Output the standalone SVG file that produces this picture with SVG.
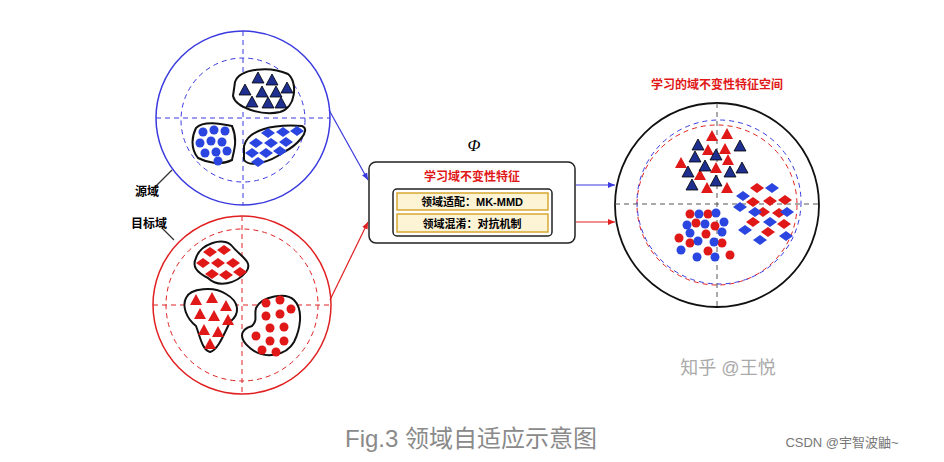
<svg xmlns="http://www.w3.org/2000/svg" xmlns:xlink="http://www.w3.org/1999/xlink" width="944" height="462" viewBox="0 0 944 462">
<style>
.cjk{font-family:"Liberation Sans","Noto Sans CJK SC",sans-serif}
.blob{fill:#fff;stroke:#111;stroke-width:2}
.ax{stroke-width:1;stroke-dasharray:5 4;fill:none}
</style>
<defs>
<path id="tri" d="M0,-6 L6,5 L-6,5Z"/>
<path id="dia" d="M0,-5 L7,0 L0,5 L-7,0Z"/>
<circle id="dot" r="4.5"/>
<marker id="ab" markerWidth="8" markerHeight="8" refX="7" refY="4" orient="auto" markerUnits="userSpaceOnUse"><path d="M0,1 L7,4 L0,7Z" fill="#3a3adf"/></marker>
<marker id="ar" markerWidth="8" markerHeight="8" refX="7" refY="4" orient="auto" markerUnits="userSpaceOnUse"><path d="M0,1 L7,4 L0,7Z" fill="#e02020"/></marker>
</defs>
<rect width="944" height="462" fill="#fff"/>
<g id="connectors" fill="none" stroke-width="1.2">
<path d="M329,110 L368,180" stroke="#3a3adf" marker-end="url(#ab)"/>
<path d="M330,300 L368,222" stroke="#e02020" marker-end="url(#ar)"/>
<path d="M576,185 L615,185" stroke="#3a3adf" marker-end="url(#ab)"/>
<path d="M576,222 L615,222" stroke="#e02020" marker-end="url(#ar)"/>
<path d="M172,170 L152,190" stroke="#333"/>
<path d="M162,228 L174,240" stroke="#333"/>
</g>
<g id="source">
<circle cx="243" cy="118" r="87" fill="none" stroke="#3a3adf" stroke-width="1.5"/>
<circle cx="243" cy="120" r="62" class="ax" stroke="#3a3adf"/>
<path d="M243,31 V205 M156,118 H330" class="ax" stroke="#3a3adf"/>
<path class="blob" d="M235,82 C240,68 270,66 288,74 C298,82 296,108 280,112 C262,116 236,108 233,96 Z"/>
<g fill="#1e2f8f" stroke="#000" stroke-width="0.8">
<use href="#tri" x="258" y="78"/><use href="#tri" x="272" y="80"/><use href="#tri" x="245" y="90"/><use href="#tri" x="262" y="92"/><use href="#tri" x="276" y="92"/><use href="#tri" x="287" y="88"/><use href="#tri" x="252" y="102"/><use href="#tri" x="268" y="103"/><use href="#tri" x="281" y="103"/>
</g>
<path class="blob" d="M196,128 C204,120 222,124 232,126 C238,140 234,150 232,160 C220,166 206,162 198,158 C190,148 192,136 196,128 Z"/>
<g fill="#2a45e0">
<use href="#dot" x="203" y="132"/><use href="#dot" x="214" y="130"/><use href="#dot" x="225" y="131"/><use href="#dot" x="200" y="143"/><use href="#dot" x="211" y="141"/><use href="#dot" x="222" y="142"/><use href="#dot" x="205" y="153"/><use href="#dot" x="216" y="152"/><use href="#dot" x="227" y="151"/><use href="#dot" x="218" y="161"/>
</g>
<path class="blob" d="M244,146 C248,130 272,124 302,126 C312,130 296,146 284,152 C270,162 250,168 244,160 Z"/>
<g fill="#2a45e0">
<use href="#dia" x="268" y="133"/><use href="#dia" x="283" y="132"/><use href="#dia" x="297" y="131"/><use href="#dia" x="256" y="143"/><use href="#dia" x="271" y="143"/><use href="#dia" x="286" y="142"/><use href="#dia" x="252" y="153"/><use href="#dia" x="266" y="153"/><use href="#dia" x="280" y="151"/><use href="#dia" x="258" y="162"/>
</g>
</g>
<g id="target">
<circle cx="242" cy="305" r="89" fill="none" stroke="#e02020" stroke-width="1.5"/>
<circle cx="242" cy="305" r="76" class="ax" stroke="#e02020"/>
<path d="M242,216 V394 M153,305 H331" class="ax" stroke="#e02020"/>
<path class="blob" d="M196,258 C200,244 224,236 232,246 C240,256 254,262 246,272 C236,284 218,288 208,278 C196,272 192,266 196,258 Z"/>
<g fill="#e01818">
<use href="#dia" x="210" y="252"/><use href="#dia" x="224" y="250"/><use href="#dia" x="203" y="263"/><use href="#dia" x="218" y="263"/><use href="#dia" x="233" y="263"/><use href="#dia" x="212" y="274"/><use href="#dia" x="226" y="275"/><use href="#dia" x="240" y="272"/>
</g>
<path class="blob" d="M186,298 C190,288 214,286 226,294 C240,302 240,314 230,322 C224,334 218,350 210,352 C202,350 200,336 196,326 C186,318 182,306 186,298 Z"/>
<g fill="#e01818">
<use href="#tri" x="196" y="300"/><use href="#tri" x="212" y="298"/><use href="#tri" x="226" y="306"/><use href="#tri" x="200" y="314"/><use href="#tri" x="214" y="316"/><use href="#tri" x="228" y="320"/><use href="#tri" x="204" y="330"/><use href="#tri" x="218" y="332"/><use href="#tri" x="210" y="344"/>
</g>
<path class="blob" d="M256,308 C262,296 286,292 294,300 C304,310 300,330 294,342 C286,356 264,360 250,348 C240,340 238,330 252,326 C258,320 254,316 256,308 Z"/>
<g fill="#e01818">
<use href="#dot" x="266" y="303"/><use href="#dot" x="280" y="300"/><use href="#dot" x="291" y="309"/><use href="#dot" x="266" y="316"/><use href="#dot" x="280" y="314"/><use href="#dot" x="270" y="328"/><use href="#dot" x="284" y="327"/><use href="#dot" x="256" y="336"/><use href="#dot" x="270" y="341"/><use href="#dot" x="284" y="341"/><use href="#dot" x="262" y="350"/><use href="#dot" x="276" y="352"/>
</g>
</g>
<g id="box">
<text x="474" y="151" font-family="Liberation Serif,serif" font-style="italic" font-size="17" text-anchor="middle">Φ</text>
<rect x="369" y="162" width="206" height="81" rx="7" fill="#fff" stroke="#222" stroke-width="1.5"/>
<text x="472" y="181" class="cjk" font-size="12" font-weight="bold" fill="#e01818" text-anchor="middle">学习域不变性特征</text>
<rect x="393" y="189" width="159" height="47" rx="4" fill="#fff" stroke="#222" stroke-width="1.5"/>
<rect x="397" y="193" width="151" height="17" fill="#fdf3d5" stroke="#d8a830" stroke-width="1.5"/>
<rect x="397" y="214" width="151" height="18" fill="#fdf3d5" stroke="#d8a830" stroke-width="1.5"/>
<text x="472" y="206" class="cjk" font-size="11" font-weight="bold" text-anchor="middle">领域适配：MK-MMD</text>
<text x="472" y="228" class="cjk" font-size="11" font-weight="bold" text-anchor="middle">领域混淆：对抗机制</text>
</g>
<g id="result">
<text x="717" y="89" class="cjk" font-size="12" font-weight="bold" fill="#e01818" text-anchor="middle">学习的域不变性特征空间</text>
<circle cx="717" cy="205" r="102" fill="none" stroke="#111" stroke-width="1.8"/>
<circle cx="717" cy="205" r="80" class="ax" stroke="#e02020"/>
<circle cx="719" cy="202" r="82" class="ax" stroke="#3a3adf"/>
<path d="M717,103 V307 M615,204 H819" class="ax" stroke="#555"/>
<g fill="#e01818">
<use href="#tri" x="712" y="136"/><use href="#tri" x="727" y="134"/><use href="#tri" x="708" y="150"/><use href="#tri" x="725" y="149"/><use href="#tri" x="681" y="163"/><use href="#tri" x="728" y="160"/><use href="#tri" x="716" y="168"/><use href="#tri" x="700" y="175"/><use href="#tri" x="707" y="188"/><use href="#tri" x="727" y="188"/>
</g>
<g fill="#1e2f8f" stroke="#000" stroke-width="0.8">
<use href="#tri" x="698" y="145"/><use href="#tri" x="740" y="146"/><use href="#tri" x="695" y="157"/><use href="#tri" x="716" y="155"/><use href="#tri" x="705" y="166"/><use href="#tri" x="688" y="172"/><use href="#tri" x="730" y="172"/><use href="#tri" x="742" y="168"/><use href="#tri" x="692" y="185"/><use href="#tri" x="716" y="181"/>
</g>
<g fill="#e01818">
<use href="#dia" x="757" y="188"/><use href="#dia" x="753" y="202"/><use href="#dia" x="770" y="201"/><use href="#dia" x="785" y="200"/><use href="#dia" x="763" y="212"/><use href="#dia" x="779" y="213"/><use href="#dia" x="753" y="222"/><use href="#dia" x="784" y="224"/><use href="#dia" x="768" y="232"/>
</g>
<g fill="#2a45e0">
<use href="#dia" x="772" y="188"/><use href="#dia" x="743" y="196"/><use href="#dia" x="740" y="207"/><use href="#dia" x="755" y="212"/><use href="#dia" x="787" y="212"/><use href="#dia" x="770" y="222"/><use href="#dia" x="745" y="230"/><use href="#dia" x="760" y="240"/><use href="#dia" x="786" y="236"/>
</g>
<g fill="#e01818">
<use href="#dot" x="690" y="214"/><use href="#dot" x="708" y="214"/><use href="#dot" x="696" y="223"/><use href="#dot" x="715" y="226"/><use href="#dot" x="679" y="238"/><use href="#dot" x="706" y="234"/><use href="#dot" x="690" y="243"/><use href="#dot" x="722" y="243"/><use href="#dot" x="708" y="251"/><use href="#dot" x="730" y="255"/>
</g>
<g fill="#2a45e0">
<use href="#dot" x="699" y="214"/><use href="#dot" x="716" y="213"/><use href="#dot" x="687" y="225"/><use href="#dot" x="705" y="224"/><use href="#dot" x="722" y="232"/><use href="#dot" x="690" y="233"/><use href="#dot" x="698" y="241"/><use href="#dot" x="714" y="242"/><use href="#dot" x="681" y="250"/><use href="#dot" x="697" y="257"/><use href="#dot" x="715" y="257"/><use href="#dot" x="724" y="222"/>
</g>
</g>
<g id="labels">
<text x="135" y="196" class="cjk" font-size="12" font-weight="bold">源域</text>
<text x="131" y="228" class="cjk" font-size="12" font-weight="bold">目标域</text>
<text x="728" y="374" class="cjk" font-size="18" fill="#aaa" text-anchor="middle">知乎 @王悦</text>
<text x="471" y="447" class="cjk" font-size="24" fill="#8a8a8a" text-anchor="middle">Fig.3 领域自适应示意图</text>
<text x="842" y="447" class="cjk" font-size="13" fill="#777" text-anchor="middle">CSDN @宇智波鼬~</text>
</g>
</svg>
